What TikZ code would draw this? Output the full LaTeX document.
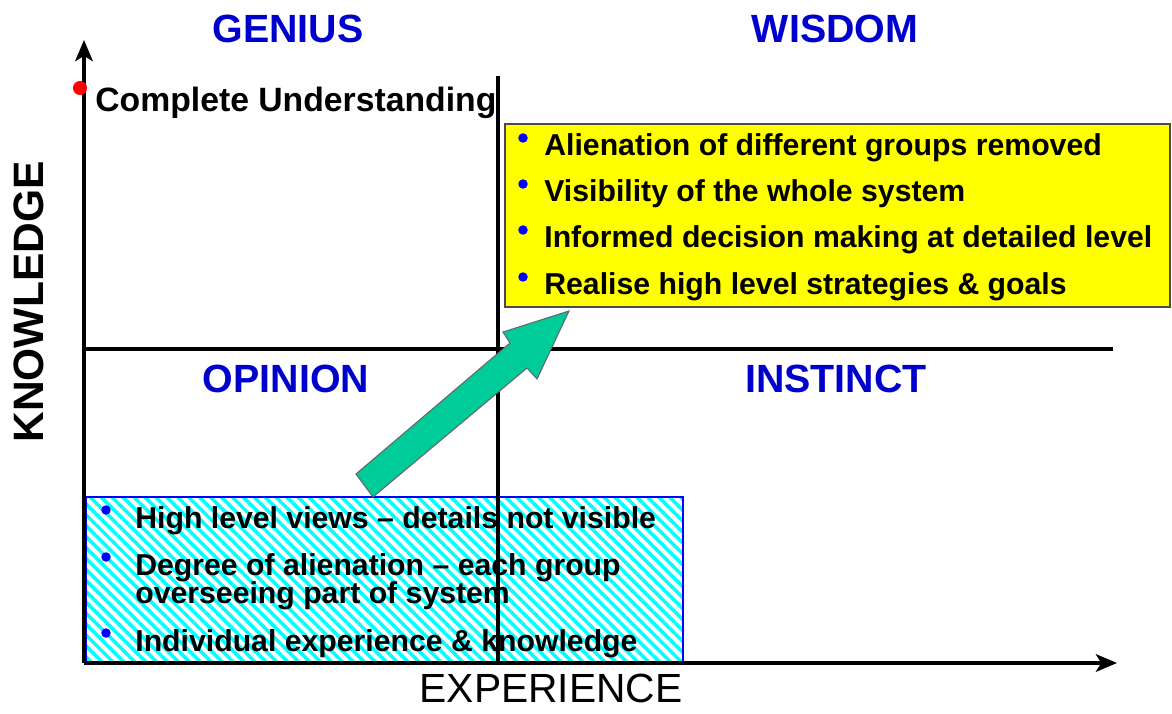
\documentclass[tikz,border=0pt]{standalone}
\usepackage{fontspec}
\setmainfont{Liberation Sans}
\usetikzlibrary{arrows.meta,patterns.meta}

\definecolor{titleblue}{RGB}{0,0,204}
\definecolor{dotblue}{RGB}{0,0,255}
\definecolor{arrowteal}{RGB}{0,204,153}
\definecolor{wisyellow}{RGB}{255,255,0}
\definecolor{hatchcyan}{RGB}{0,255,255}

\begin{document}
\begin{tikzpicture}[
        x=0.02cm, y=-0.02cm,
        axis/.style={line width=2.2pt, -{Stealth[length=12pt, width=10pt, inset=3pt]}},
        divider/.style={line width=2.2pt},
        quadrant/.style={font=\fontsize{22.4}{26}\selectfont\bfseries, text=titleblue,
                         inner sep=0pt, anchor=base},
        axislabel/.style={font=\fontsize{23.2}{27}\selectfont, inner sep=0pt},
        item/.style={font=\fontsize{17.2}{18}\selectfont\bfseries, inner sep=0pt, anchor=base west},
        dot/.style={circle, fill=dotblue, inner sep=0pt, minimum size=5.4pt},
        hatchbox/.style={draw=dotblue, line width=0.6pt, pattern={Lines[angle=-45, distance=4.4pt, line width=2pt]},
                         pattern color=hatchcyan},
        wisbox/.style={draw=black!70, line width=1pt, fill=wisyellow},
    ]
    \path[use as bounding box, fill=white] (0,0) rectangle (1172,713);

    % --- Opinion box ---
    \draw[hatchbox] (86,497) rectangle (683,663);
    \node[dot] (o1) at (106,510) {};
    \node[item] (high) at (135,528) {High level views -- details not visible};
    \node[dot] (o2) at (106,557) {};
    \node[item] (degree) at (135,575) {Degree of alienation -- each group};
    \node[item] (oversee) at (135,603) {overseeing part of system};
    \node[dot] (o3) at (106,633) {};
    \node[item] (indiv) at (135,651) {Individual experience \& knowledge};

    % --- Axes and quadrants ---
    \coordinate (origin) at (84,663);
    \coordinate (ytip) at (84,40);
    \coordinate (xtip) at (1117,663);
    \draw[axis] (origin) -- (ytip);
    \draw[axis] (origin) -- (xtip);
    \draw[divider] (498,76) -- (498,663);
    \draw[divider] (84,349) -- (1113,349);

    % --- Axis labels ---
    \node[axislabel, anchor=base] (exp) at (551,702) {EXPERIENCE};
    \node[axislabel, font=\fontsize{24.2}{28}\selectfont\bfseries, rotate=90] (know) at (29,302) {KNOWLEDGE};
    \node[circle, fill=red, inner sep=0pt, minimum size=8pt] (full) at (80,88) {};
    \node[item, font=\fontsize{19.2}{20}\selectfont\bfseries] (complete) at (95,112) {Complete Understanding};

    % --- Quadrant titles ---
    \node[quadrant] (genius) at (288,43) {GENIUS};
    \node[quadrant] (wisdom) at (835,43) {WISDOM};
    \node[quadrant] (opinion) at (286,392) {OPINION};
    \node[quadrant] (instinct) at (836,392) {INSTINCT};

    % --- Wisdom box ---
    \draw[wisbox] (505,124) rectangle (1170,307);
    \node[dot] (w1) at (523,138) {};
    \node[item] (alien) at (544,155) {Alienation of different groups removed};
    \node[dot] (w2) at (523,184) {};
    \node[item] (visib) at (544,201) {Visibility of the whole system};
    \node[dot] (w3) at (523,230) {};
    \node[item] (inform) at (544,247) {Informed decision making at detailed level};
    \node[dot] (w4) at (523,277) {};
    \node[item] (realise) at (544,294) {Realise high level strategies \& goals};

    % --- Arrow ---
    \draw[fill=arrowteal, draw=black!60, line width=0.6pt]
        (356,474) -- (510,343) -- (503,332) -- (569,311) -- (537,379) -- (527,368) -- (373,497) -- cycle;
\end{tikzpicture}
\end{document}
